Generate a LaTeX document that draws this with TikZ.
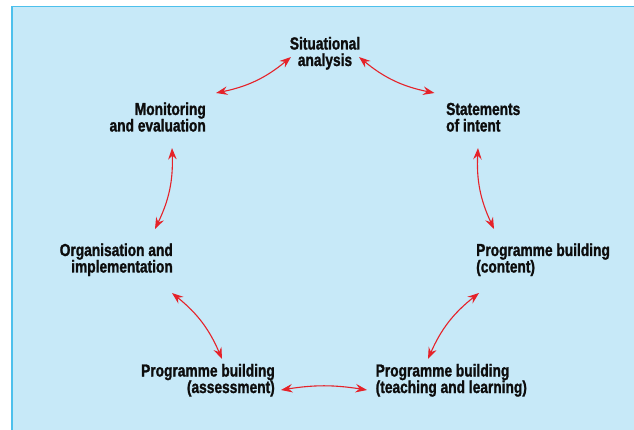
\documentclass[tikz,border=0pt]{standalone}
\usepackage{fontspec}
\setmainfont{Liberation Sans}[FakeStretch=0.79]
\usetikzlibrary{arrows.meta}
\definecolor{bgfill}{HTML}{C7E9F8}
\definecolor{bgline}{HTML}{4DC0EC}
\definecolor{arrowred}{HTML}{E52229}
\begin{document}
\begin{tikzpicture}[x=1pt,y=-1pt,
  lbl/.style={font=\fontsize{17.4}{16.5}\selectfont\bfseries\addfontfeature{FakeBold=1.3}, inner sep=0pt, text=black!95},
  lblr/.style={lbl, align=right, anchor=base east},
  lbll/.style={lbl, align=left, anchor=base west},
  lblc/.style={lbl, align=center, anchor=base},
  link/.style={arrowred, line width=1.1pt, {Stealth[length=11.5pt,width=8.5pt,inset=4pt]}-{Stealth[length=11.5pt,width=8.5pt,inset=4pt]}}]
\useasboundingbox (0,0) rectangle (634,430);
\fill[bgfill] (12,6.5) rectangle (640,440);
\draw[bgline, line width=1.6pt] (12,440) -- (12,6.5) -- (640,6.5);

\node[lblc] (sit) at (325,66) {Situational\\analysis};
\node[lblr] (mon) at (206,131.5) {Monitoring\\and evaluation};
\node[lbll] (sta) at (446,131.5) {Statements\\of intent};
\node[lblr] (org) at (173,272.5) {Organisation and\\implementation};
\node[lbll] (con) at (476,272.5) {Programme building\\(content)};
\node[lblr] (ass) at (275,393) {Programme building\\(assessment)};
\node[lbll] (tea) at (375.5,393) {Programme building\\(teaching and learning)};

\coordinate (a1) at (216,93);   \coordinate (a2) at (291,57);
\coordinate (b1) at (359,57);   \coordinate (b2) at (434.5,93);
\coordinate (c1) at (478,148);  \coordinate (c2) at (494,229);
\coordinate (f1) at (479,293);  \coordinate (f2) at (428,359);
\coordinate (g1) at (367,390);  \coordinate (g2) at (281,390);
\coordinate (e1) at (222,359);\coordinate (e2) at (172,293);
\coordinate (d1) at (155,229);  \coordinate (d2) at (172,148);

\draw[link] (a1) to[bend right=14] (a2);
\draw[link] (b1) to[bend right=14] (b2);
\draw[link] (c1) to[bend right=14] (c2);
\draw[link] (f1) to[bend right=14] (f2);
\draw[link] (g1) to[bend right=9] (g2);
\draw[link] (e1) to[bend right=14] (e2);
\draw[link] (d1) to[bend right=14] (d2);
\end{tikzpicture}
\end{document}
